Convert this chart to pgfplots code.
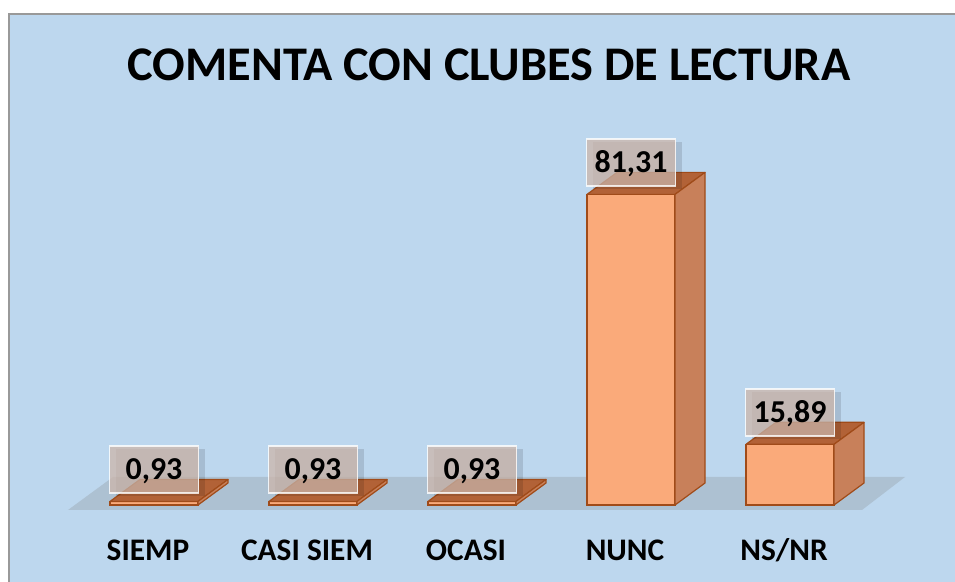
\documentclass[border=0pt]{standalone}
\usepackage{pgfplots}
\pgfplotsset{compat=1.18}
\usepackage{pgfplotstable}
\usepackage{fontspec}
\setmainfont{Carlito}
\usetikzlibrary{shadows}
\definecolor{bg}{RGB}{189,215,238}
\definecolor{barfront}{RGB}{250,170,122}
\definecolor{barside}{RGB}{200,128,90}
\definecolor{bartop}{RGB}{178,98,55}
\definecolor{baredge}{RGB}{160,75,25}
\definecolor{lblfill}{RGB}{205,182,170}

\pgfplotstableread{
x val
0 0.93
1 0.93
2 0.93
3 81.31
4 15.89
}\datatable

\begin{document}
\begin{tikzpicture}
\begin{scope}[x=1bp,y=-1bp,shift={(-74.5bp,505bp)}]
 \fill[white] (0,0) rectangle (955,582);
 \fill[bg] (9,14) rectangle (955,582);
 \draw[gray!80, line width=1.2bp] (9,582) -- (9,14) -- (955,14);
 \fill[gray, opacity=0.25] (68,510) -- (862,510) -- (905,477) -- (113,477) -- cycle;
 \node[font=\bfseries\fontsize{48.5}{48.5}\selectfont, anchor=base] at (489,81) {COMENTA CON CLUBES DE LECTURA};
\end{scope}
\begin{axis}[
  anchor=south west, at={(0,0)},
  x=159bp, y=3.82bp,
  xmin=-0.5, xmax=4.5, ymin=0, ymax=106,
  clip=false,
  axis line style={draw=none},
  ytick=\empty,
  xtick={0,1,2,3,4},
  xtick style={draw=none},
  xticklabels={SIEMP,CASI SIEM,OCASI,NUNC,NS/NR},
  xticklabel style={font=\bfseries\fontsize{31.5}{31.5}\selectfont, anchor=base, yshift=-55bp, xshift=-6bp},
  /pgf/number format/assume math mode=true,
  /pgf/number format/use comma,
  /pgf/number format/fixed,
  /pgf/number format/precision=2,
  /pgf/number format/fixed zerofill,
]
\addplot[ybar, bar width=88bp, fill=barfront, draw=baredge, line width=1.2bp] table[x=x,y=val]{\datatable};
\addplot[only marks, scatter, mark=none,
  visualization depends on={\thisrow{val} \as \hval},
  scatter/@pre marker code/.code={%
    \pgfmathsetmacro\hh{\hval*3.82}%
    \filldraw[fill=bartop, draw=baredge, line width=1.2bp, line join=round] (-44bp,0bp) -- (44bp,0bp) -- (74bp,22bp) -- (-14bp,22bp) -- cycle;
    \filldraw[fill=barside, draw=baredge, line width=1.2bp, line join=round] (44bp,0bp) -- (74bp,22bp) -- (74bp,22bp-\hh bp) -- (44bp,-\hh bp) -- cycle;
  },
  scatter/@post marker code/.code={},
] table[x=x,y=val]{\datatable};
\addplot[draw=none, mark=none, nodes near coords,
  every node near coord/.append style={anchor=center, yshift=32bp,
    font=\bfseries\fontsize{32}{32}\selectfont, fill=lblfill, fill opacity=0.75, text opacity=1,
    draw=white, draw opacity=0.8, line width=1.5bp, minimum width=89bp, minimum height=47bp,
    inner sep=0pt, text height=20bp, text depth=0pt,
    drop shadow={shadow xshift=6bp, shadow yshift=-3bp, opacity=0.12, fill=black}},
] table[x=x,y=val]{\datatable};
\end{axis}
\pgfresetboundingbox
\path[x=1bp,y=-1bp,shift={(-74.5bp,505bp)}] (0,0) rectangle (955,582);
\end{tikzpicture}
\end{document}
